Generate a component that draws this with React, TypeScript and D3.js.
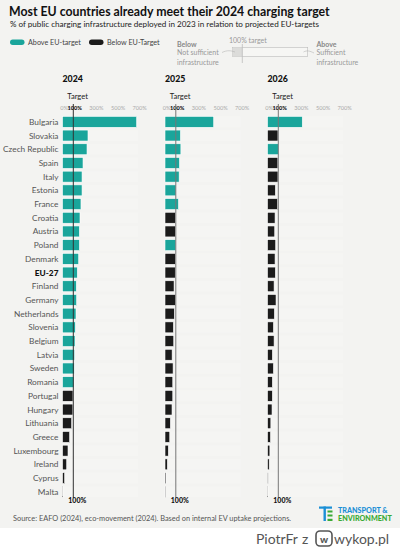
import React from "react";
import * as d3 from "d3";

const countries = [
  "Bulgaria", "Slovakia", "Czech Republic", "Spain", "Italy", "Estonia", "France",
  "Croatia", "Austria", "Poland", "Denmark", "EU-27", "Finland", "Germany",
  "Netherlands", "Slovenia", "Belgium", "Latvia", "Sweden", "Romania", "Portugal",
  "Hungary", "Lithuania", "Greece", "Luxembourg", "Ireland", "Cyprus", "Malta",
];
const v2024 = [687, 236, 227, 190, 181, 181, 171, 162, 156, 156, 150, 137, 128, 131, 125, 119, 116, 113, 109, 106, 97, 96, 85, 66, 51, 39, 20, 2];
const v2025 = [451, 143, 147, 134, 131, 102, 125, 96, 96, 101, 96, 95, 84, 98, 87, 78, 81, 66, 75, 72, 72, 65, 50, 44, 31, 22, 9, 1];
const v2026 = [322, 97, 103, 96, 97, 73, 94, 70, 67, 76, 70, 73, 61, 79, 64, 55, 61, 45, 55, 45, 45, 42, 31, 28, 22, 16, 6, 1];
const years = ["2024", "2025", "2026"];
const tickValues = [0, 100, 300, 500, 700];

const TEAL = "#1aa59b";
const BLACK = "#1b1b1b";
const BG = "#f3f3f1";
const FONT = "Lato, 'Open Sans', sans-serif";

export default function App() {
  const W = 400, H = 549;
  const series = [v2024, v2025, v2026];
  const panelX = [62.5, 165, 267.5];
  const y = d3.scaleBand<string>().domain(countries).range([115, 498.6]).paddingInner(0.2).paddingOuter(0.1);
  const lineTop = 104, lineBottom = 498;

  return (
    <svg width={W} height={H} style={{ position: "absolute", left: 0, top: 0 }} fontFamily={FONT}>
      <rect x={0} y={0} width={W} height={528} fill={BG} />
      <rect x={0} y={528} width={W} height={H - 528} fill="#ffffff" />

      {/* title */}
      <text x={9} y={16} fontSize={12.3} fontWeight={700} fill="#111">Most EU countries already meet their 2024 charging target</text>
      <text x={10} y={27} fontSize={8.1} fill="#222">% of public charging infrastructure deployed in 2023 in relation to projected EU-targets</text>

      {/* legend */}
      <rect x={10} y={39.5} width={14.5} height={5.5} rx={2.75} fill={TEAL} />
      <text x={28} y={45} fontSize={7.2} fill="#444">Above EU-target</text>
      <rect x={89} y={39.5} width={14.5} height={5.5} rx={2.75} fill={BLACK} />
      <text x={107} y={45} fontSize={7.2} fill="#444">Below EU-Target</text>

      {/* annotation */}
      <g fontSize={7} fill="#999">
        <text x={177} y={46.5} fontWeight={700} fill="#888">Below</text>
        <text x={177} y={55}>Not sufficient</text>
        <text x={177} y={64.5}>infrastructure</text>
        <text x={229} y={43}>100% target</text>
        <text x={316.5} y={46.5} fontWeight={700} fill="#888">Above</text>
        <text x={316.5} y={55}>Sufficient</text>
        <text x={316.5} y={64.5}>infrastructure</text>
      </g>
      <rect x={232.3} y={47.3} width={75.4} height={9.4} fill="#f6f6f4" stroke="#bbb" strokeWidth={0.6} />
      <rect x={232.6} y={47.6} width={9.7} height={8.8} fill="#dcdcda" />
      <line x1={242.3} x2={242.3} y1={44} y2={63} stroke="#bbb" strokeWidth={0.8} />
      <path d="M222,52.5 C227,50 231,50.5 235,52" fill="none" stroke="#aaa" strokeWidth={0.5} />
      <path d="M303.5,52 C307,50 310,51 314,53" fill="none" stroke="#aaa" strokeWidth={0.5} />

      {/* country labels */}
      {countries.map((c) => (
        <text key={c} x={58.5} y={(y(c) ?? 0) + y.bandwidth() / 2 + 3}
          textAnchor="end" fontSize={8.3}
          fontWeight={c === "EU-27" ? 900 : 400}
          fill={c === "EU-27" ? "#111" : "#555"}>{c}</text>
      ))}

      {series.map((vals, si) => {
        const x = d3.scaleLinear().domain([0, 700]).range([panelX[si], panelX[si] + 75.6]);
        const tx = x(100);
        return (
          <g key={si}>
            <text x={panelX[si]} y={82} fontSize={8.8} fontWeight={900} fill="#111">{years[si]}</text>
            <text x={tx - 6} y={99} fontSize={7.6} fill="#222">Target</text>
            {tickValues.map((t) => (
              <text key={t} x={x(t) + 1.5} y={110} textAnchor="middle" fontSize={5.6}
                fontWeight={t === 100 ? 900 : 400} fill={t === 100 ? "#111" : "#aaa"}>{t}%</text>
            ))}
            {countries.map((c) => (
              <rect key={"t" + c} x={x(0)} y={y(c)} width={x(700) - x(0)} height={y.bandwidth()} fill="#f5f5f3" />
            ))}
            {countries.map((c, i) => (
              <rect key={c} x={x(0)} y={y(c)} width={Math.max(0.5, x(vals[i]) - x(0))} height={y.bandwidth()}
                fill={vals[i] >= 100 ? TEAL : BLACK} stroke="#ffffff" strokeWidth={0.6} />
            ))}
            <line x1={tx} x2={tx} y1={lineTop} y2={lineBottom} stroke={si === 0 ? "#333" : "#777"} strokeWidth={1} />
            <text x={tx - 5} y={503} fontSize={7} fontWeight={900} fill="#111">100%</text>
          </g>
        );
      })}

      {/* source */}
      <text x={13} y={520.5} fontSize={7.4} fill="#555">Source: EAFO (2024), eco-movement (2024). Based on internal EV uptake projections.</text>

      {/* logo */}
      <g>
        <rect x={319} y={506.5} width={13} height={2.2} fill="#1b8fd6" />
        <rect x={323.5} y={506.5} width={2.4} height={14.5} fill="#1b8fd6" />
        <rect x={327.5} y={510.5} width={5} height={2} fill="#3aaa35" />
        <rect x={327.5} y={514.5} width={5} height={2} fill="#3aaa35" />
        <rect x={327.5} y={518.8} width={5} height={2.2} fill="#3aaa35" />
        <text x={338} y={512.5} fontSize={7.2} fontWeight={900} fill="#1b8fd6">TRANSPORT &amp;</text>
        <text x={338} y={520.8} fontSize={7.2} fontWeight={900} fill="#3aaa35">ENVIRONMENT</text>
      </g>

      {/* watermark */}
      <g fill="#555" fontSize={14}>
        <text x={256} y={544}>PiotrFr</text>
        <text x={302} y={544}>z</text>
        <rect x={316} y={531} width={16} height={15} rx={4} fill="none" stroke="#555" strokeWidth={1.6} />
        <text x={324} y={542.5} textAnchor="middle" fontSize={10} fontWeight={900}>w</text>
        <text x={334} y={544}>wykop.pl</text>
      </g>
    </svg>
  );
}
